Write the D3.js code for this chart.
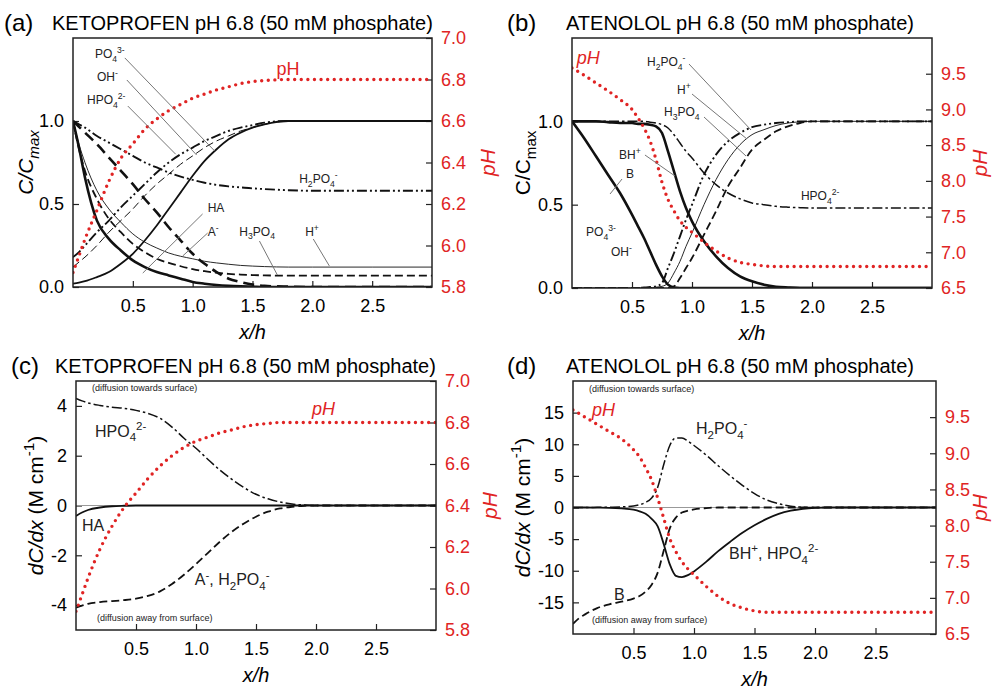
<!DOCTYPE html>
<html><head><meta charset="utf-8">
<script src="https://cdn.jsdelivr.net/npm/d3@7"></script>
<style>
body{margin:0;background:#fff;}
svg{font-family:"Liberation Sans",Arial,sans-serif;}
</style></head><body>
<svg id="fig" width="994" height="692"></svg>
<script>
// ---- (a) KETOPROFEN, C/Cmax ------------------------------------------------
var xa = [0, 0.05, 0.1, 0.2, 0.3, 0.4, 0.5, 0.6, 0.7, 0.8, 0.9, 1.0, 1.1, 1.2, 1.3, 1.4, 1.5, 1.6, 1.8, 2.0, 2.5, 3.0];
var aHA    = [1.0, 0.84, 0.66, 0.40, 0.29, 0.22, 0.16, 0.12, 0.09, 0.07, 0.05, 0.03, 0.02, 0.012, 0.007, 0.004, 0.002, 0, 0, 0, 0, 0];
var aA     = [1.0, 0.965, 0.93, 0.86, 0.78, 0.70, 0.62, 0.53, 0.45, 0.36, 0.28, 0.20, 0.14, 0.09, 0.05, 0.03, 0.015, 0.007, 0.002, 0, 0, 0];
var aH     = [1.0, 0.86, 0.75, 0.58, 0.47, 0.39, 0.32, 0.27, 0.235, 0.205, 0.185, 0.17, 0.155, 0.145, 0.137, 0.13, 0.126, 0.123, 0.12, 0.12, 0.12, 0.12];
var aH3PO4 = [1.0, 0.83, 0.70, 0.53, 0.41, 0.33, 0.26, 0.21, 0.17, 0.145, 0.125, 0.108, 0.095, 0.086, 0.079, 0.075, 0.072, 0.07, 0.068, 0.068, 0.068, 0.068];
var aH2PO4 = [1.0, 0.98, 0.96, 0.91, 0.87, 0.83, 0.79, 0.75, 0.72, 0.69, 0.665, 0.645, 0.628, 0.615, 0.606, 0.60, 0.594, 0.59, 0.583, 0.58, 0.58, 0.58];
var aHPO4  = [0.18, 0.21, 0.25, 0.33, 0.40, 0.48, 0.55, 0.62, 0.69, 0.75, 0.80, 0.84, 0.88, 0.91, 0.94, 0.96, 0.975, 0.99, 1.0, 1.0, 1.0, 1.0];
var aOH    = [0.12, 0.15, 0.18, 0.25, 0.33, 0.40, 0.47, 0.55, 0.62, 0.68, 0.74, 0.79, 0.84, 0.88, 0.91, 0.94, 0.96, 0.98, 1.0, 1.0, 1.0, 1.0];
var aPO4   = [0.02, 0.027, 0.035, 0.06, 0.09, 0.14, 0.20, 0.28, 0.37, 0.47, 0.57, 0.67, 0.76, 0.83, 0.89, 0.93, 0.96, 0.98, 1.0, 1.0, 1.0, 1.0];
var apH    = [5.87, 5.95, 6.03, 6.17, 6.31, 6.42, 6.49, 6.56, 6.61, 6.65, 6.68, 6.71, 6.73, 6.75, 6.765, 6.78, 6.79, 6.795, 6.8, 6.8, 6.8, 6.8];

// ---- (b) ATENOLOL, C/Cmax --------------------------------------------------
var xb = [0, 0.1, 0.2, 0.3, 0.4, 0.5, 0.55, 0.6, 0.65, 0.7, 0.75, 0.8, 0.85, 0.9, 0.95, 1.0, 1.1, 1.2, 1.3, 1.4, 1.5, 1.6, 1.7, 1.8, 1.9, 2.0, 2.5, 3.0];
var bB     = [1.0, 0.90, 0.79, 0.68, 0.57, 0.44, 0.37, 0.30, 0.22, 0.14, 0.07, 0.02, 0.003, 0, 0, 0, 0, 0, 0, 0, 0, 0, 0, 0, 0, 0, 0, 0];
var bBH    = [1.0, 1.0, 1.0, 0.995, 0.99, 0.99, 0.985, 0.985, 0.98, 0.97, 0.93, 0.82, 0.70, 0.58, 0.48, 0.40, 0.28, 0.19, 0.12, 0.07, 0.04, 0.02, 0.008, 0.003, 0, 0, 0, 0];
var bHPO4  = [1.0, 1.0, 1.0, 1.0, 1.0, 1.0, 1.0, 1.0, 0.995, 0.99, 0.98, 0.96, 0.92, 0.87, 0.82, 0.78, 0.69, 0.62, 0.57, 0.535, 0.51, 0.50, 0.49, 0.485, 0.482, 0.48, 0.48, 0.48];
var bH2PO4 = [0, 0, 0, 0, 0, 0, 0, 0.003, 0.006, 0.01, 0.03, 0.12, 0.21, 0.31, 0.41, 0.50, 0.68, 0.80, 0.88, 0.93, 0.965, 0.98, 0.99, 0.995, 1.0, 1.0, 1.0, 1.0];
var bH     = [0, 0, 0, 0, 0, 0, 0, 0, 0, 0.005, 0.01, 0.03, 0.09, 0.16, 0.25, 0.33, 0.50, 0.65, 0.77, 0.86, 0.92, 0.95, 0.975, 0.99, 0.997, 1.0, 1.0, 1.0];
var bH3PO4 = [0, 0, 0, 0, 0, 0, 0, 0, 0, 0, 0, 0, 0.01, 0.06, 0.12, 0.18, 0.32, 0.46, 0.61, 0.72, 0.83, 0.89, 0.94, 0.97, 0.99, 1.0, 1.0, 1.0];
var bpH    = [9.58, 9.48, 9.37, 9.26, 9.14, 9.0, 8.88, 8.74, 8.56, 8.3, 7.98, 7.74, 7.58, 7.44, 7.35, 7.28, 7.14, 7.02, 6.92, 6.86, 6.83, 6.81, 6.8, 6.8, 6.8, 6.8, 6.8, 6.8];

// ---- (c) KETOPROFEN, dC/dx -------------------------------------------------
var xc = [0, 0.05, 0.1, 0.2, 0.3, 0.4, 0.5, 0.6, 0.7, 0.8, 0.9, 1.0, 1.1, 1.2, 1.3, 1.4, 1.5, 1.6, 1.7, 1.8, 1.9, 2.0, 2.5, 3.0];
var cHPO4 = [4.3, 4.2, 4.12, 4.02, 3.95, 3.9, 3.82, 3.7, 3.5, 3.15, 2.7, 2.3, 1.85, 1.42, 1.05, 0.72, 0.45, 0.27, 0.14, 0.06, 0.02, 0, 0, 0];
var cA    = [-4.1, -4.02, -3.95, -3.88, -3.84, -3.8, -3.74, -3.63, -3.45, -3.15, -2.78, -2.35, -1.9, -1.45, -1.05, -0.72, -0.45, -0.25, -0.12, -0.05, -0.01, 0, 0, 0];
var cHA   = [-0.42, -0.28, -0.18, -0.08, -0.03, -0.01, 0, 0, 0, 0, 0, 0, 0, 0, 0, 0, 0, 0, 0, 0, 0, 0, 0, 0];
var cpH   = [5.89, 5.97, 6.05, 6.19, 6.30, 6.39, 6.46, 6.53, 6.59, 6.64, 6.68, 6.71, 6.73, 6.75, 6.765, 6.78, 6.79, 6.795, 6.8, 6.8, 6.8, 6.8, 6.8, 6.8];

// ---- (d) ATENOLOL, dC/dx ---------------------------------------------------
var xd = [0, 0.05, 0.1, 0.2, 0.3, 0.4, 0.5, 0.55, 0.6, 0.65, 0.7, 0.75, 0.8, 0.85, 0.9, 0.95, 1.0, 1.1, 1.2, 1.3, 1.4, 1.5, 1.6, 1.7, 1.8, 1.9, 2.0, 2.1, 2.5, 3.0];
var dH2PO4 = [0, 0, 0, 0.02, 0.05, 0.1, 0.25, 0.45, 0.8, 1.5, 3.2, 6.8, 9.8, 11.0, 11.0, 10.5, 9.8, 8.3, 6.6, 5.0, 3.5, 2.2, 1.2, 0.6, 0.2, 0.05, 0, 0, 0, 0];
var dBH    = [0, 0, 0, -0.02, -0.05, -0.15, -0.35, -0.6, -1.0, -1.8, -3.0, -5.8, -9.0, -10.8, -11.0, -10.7, -10.1, -8.6, -6.9, -5.4, -4.0, -2.8, -1.8, -1.0, -0.5, -0.2, -0.05, 0, 0, 0];
var dB     = [-18.4, -17.5, -16.9, -15.9, -15.3, -14.9, -14.4, -14.0, -13.3, -12.2, -10.3, -6.8, -3.3, -1.6, -0.8, -0.5, -0.3, -0.1, 0, 0, 0, 0, 0, 0, 0, 0, 0, 0, 0, 0];
var dpH    = [9.6, 9.55, 9.5, 9.4, 9.3, 9.2, 9.05, 8.95, 8.8, 8.63, 8.38, 8.1, 7.82, 7.64, 7.5, 7.4, 7.32, 7.16, 7.02, 6.92, 6.86, 6.82, 6.8, 6.8, 6.8, 6.8, 6.8, 6.8, 6.8, 6.8];

// tick labels
var xTicks = [0.5, 1.0, 1.5, 2.0, 2.5];
var cTicks = [0, 0.5, 1.0];
var gradTicksC = [-4, -2, 0, 2, 4];
var gradTicksD = [-15, -10, -5, 0, 5, 10, 15];
var pHTicksKeto = [5.8, 6.0, 6.2, 6.4, 6.6, 6.8, 7.0];
var pHTicksAten = [6.5, 7.0, 7.5, 8.0, 8.5, 9.0, 9.5];

var RED = '#e02424';
var STY = {
    thick:    {w: 2.6, dash: null},
    solid:    {w: 1.8, dash: null},
    thin:     {w: 0.9, dash: null},
    bigDash:  {w: 2.6, dash: '11,6'},
    dash:     {w: 1.8, dash: '8,4'},
    thinDash: {w: 1.0, dash: '8,4'},
    dashDot2: {w: 1.9, dash: '10,3,2,3,2,3'},
    dashDot:  {w: 1.5, dash: '10,3,2.5,3'}
};

var fig = d3.select('#fig');
var plain = function (d) { return String(d); };   // keeps the ascii minus

// text with sub/superscripts: parts = [[text, 'sub'|'sup'|'', italic]]
function rich(text, parts, size) {
    var off = 0;
    parts.forEach(function (p) {
        var target = p[1] === 'sub' ? size * 0.3 : (p[1] === 'sup' ? -size * 0.42 : 0);
        text.append('tspan')
            .attr('dy', target - off)
            .attr('font-size', p[1] ? size * 0.72 : size)
            .attr('font-style', p[2] ? 'italic' : null)
            .text(p[0]);
        off = target;
    });
    return text;
}

function panel(cfg) {
    var g = fig.append('g');
    var x = d3.scaleLinear().domain([0, 3]).range([cfg.l, cfg.r]);
    var y = d3.scaleLinear().domain(cfg.yDom).range([cfg.b, cfg.t]);
    var yp = d3.scaleLinear().domain(cfg.pDom).range([cfg.b, cfg.t]);

    var clipId = 'clip' + cfg.id;
    fig.append('clipPath').attr('id', clipId).append('rect')
        .attr('x', cfg.l).attr('y', cfg.t).attr('width', cfg.r - cfg.l).attr('height', cfg.b - cfg.t);

    // titles
    g.append('text').attr('x', cfg.tagX).attr('y', cfg.titleY).attr('font-size', 24).text(cfg.tag);
    g.append('text').attr('x', cfg.titleX).attr('y', cfg.titleY - 1).attr('font-size', 20).text(cfg.title);

    // axes, ticks pointing inward
    var ax = g.append('g').attr('transform', 'translate(0,' + cfg.b + ')')
        .call(d3.axisBottom(x).tickValues(xTicks).tickFormat(d3.format('.1f')).tickSizeInner(-6).tickSizeOuter(0).tickPadding(12));
    var ay = g.append('g').attr('transform', 'translate(' + cfg.l + ',0)')
        .call(d3.axisLeft(y).tickValues(cfg.yTicks).tickFormat(cfg.yFmt).tickSizeInner(-6).tickSizeOuter(0).tickPadding(9));
    var ap = g.append('g').attr('transform', 'translate(' + cfg.r + ',0)')
        .call(d3.axisRight(yp).tickValues(cfg.pTicks).tickFormat(d3.format('.1f')).tickSizeInner(-6).tickSizeOuter(0).tickPadding(9));
    [ax, ay, ap].forEach(function (a) {
        a.select('.domain').remove();
        a.selectAll('text').attr('font-size', 18).attr('font-family', null);
        a.selectAll('line').attr('stroke', '#222').attr('stroke-width', 1.2);
    });
    ap.selectAll('text').attr('fill', RED);

    var body = g.append('g').attr('clip-path', 'url(#' + clipId + ')');

    if (cfg.zeroLine) {
        body.append('line').attr('x1', cfg.l).attr('x2', cfg.r)
            .attr('y1', y(0)).attr('y2', y(0)).attr('stroke', '#999').attr('stroke-width', 1);
    }

    // leader lines
    (cfg.leaders || []).forEach(function (d) {
        g.append('line').attr('x1', x(d[0])).attr('y1', y(d[1])).attr('x2', x(d[2])).attr('y2', y(d[3]))
            .attr('stroke', '#777').attr('stroke-width', 1);
    });

    var line = d3.line().curve(d3.curveMonotoneX);
    cfg.series.forEach(function (s) {
        var st = STY[s.style];
        body.append('path')
            .attr('d', line(cfg.xs.map(function (v, i) { return [x(v), y(s.v[i])]; })))
            .attr('fill', 'none').attr('stroke', '#111')
            .attr('stroke-width', st.w).attr('stroke-dasharray', st.dash);
    });

    // pH profile, red dotted
    body.append('path')
        .attr('d', line(cfg.xs.map(function (v, i) { return [x(v), yp(cfg.pH[i])]; })))
        .attr('fill', 'none').attr('stroke', RED).attr('stroke-width', 3.4)
        .attr('stroke-linecap', 'round').attr('stroke-dasharray', '0,6.6');

    g.append('rect').attr('x', cfg.l).attr('y', cfg.t).attr('width', cfg.r - cfg.l).attr('height', cfg.b - cfg.t)
        .attr('fill', 'none').attr('stroke', '#222').attr('stroke-width', 1.5);

    // curve labels
    (cfg.labels || []).forEach(function (d) {
        var t = g.append('text').attr('x', x(d.x)).attr('y', y(d.y)).attr('font-size', d.size)
            .attr('fill', d.red ? RED : '#222');
        rich(t, d.parts, d.size);
    });

    // axis titles
    g.append('text').attr('x', (cfg.l + cfg.r) / 2).attr('y', cfg.b + 52)
        .attr('text-anchor', 'middle').attr('font-size', 20).attr('font-style', 'italic').text('x/h');
    var yl = g.append('text').attr('text-anchor', 'middle').attr('font-size', 21)
        .attr('transform', 'translate(' + cfg.yLabX + ',' + (cfg.t + cfg.b) / 2 + ') rotate(-90)');
    rich(yl, cfg.yLab, 21);
    g.append('text').attr('text-anchor', 'middle').attr('font-size', 21).attr('font-style', 'italic')
        .attr('fill', RED)
        .attr('transform', 'translate(' + cfg.pLabX + ',' + (cfg.t + cfg.b) / 2 + ') rotate(-90)')
        .text('pH');
}

var S = 12; // small label font
var gradLab = [['dC/dx', '', true], [' (M cm', '', false], ['-1', 'sup', false], [')', '', false]];

panel({
    id: 'a', l: 73, r: 432, t: 38, b: 287,
    yDom: [0, 1.5], pDom: [5.8, 7.0], yTicks: cTicks, pTicks: pHTicksKeto, yFmt: d3.format('.1f'),
    tag: '(a)', tagX: 4, titleX: 52, titleY: 31, title: 'KETOPROFEN pH 6.8 (50 mM phosphate)',
    yLabX: 33, pLabX: 495,
    yLab: [['C/C', '', true], ['max', 'sub', true]],
    xs: xa, pH: apH,
    series: [
        {v: aHA, style: 'thick'}, {v: aA, style: 'bigDash'}, {v: aH, style: 'thin'},
        {v: aH3PO4, style: 'dash'}, {v: aH2PO4, style: 'dashDot2'}, {v: aHPO4, style: 'dashDot2'},
        {v: aOH, style: 'thinDash'}, {v: aPO4, style: 'solid'}
    ],
    leaders: [
        [0.433, 1.38, 1.183, 0.82], [0.45, 1.247, 1.033, 0.795], [0.458, 1.09, 0.858, 0.80],
        [1.083, 0.44, 0.583, 0.084], [1.125, 0.325, 0.917, 0.187],
        [1.558, 0.277, 1.708, 0.072], [2.008, 0.289, 2.142, 0.127]
    ],
    labels: [
        {x: 0.183, y: 1.38, size: S, parts: [['PO', ''], ['4', 'sub'], ['3-', 'sup']]},
        {x: 0.2, y: 1.24, size: S, parts: [['OH', ''], ['-', 'sup']]},
        {x: 0.117, y: 1.10, size: S, parts: [['HPO', ''], ['4', 'sub'], ['2-', 'sup']]},
        {x: 1.89, y: 0.627, size: S, parts: [['H', ''], ['2', 'sub'], ['PO', ''], ['4', 'sub'], ['-', 'sup']]},
        {x: 1.125, y: 0.45, size: S, parts: [['HA', '']]},
        {x: 1.125, y: 0.31, size: S, parts: [['A', ''], ['-', 'sup']]},
        {x: 1.39, y: 0.31, size: S, parts: [['H', ''], ['3', 'sub'], ['PO', ''], ['4', 'sub']]},
        {x: 1.94, y: 0.31, size: S, parts: [['H', ''], ['+', 'sup']]},
        {x: 1.7, y: 1.28, size: 18, red: true, parts: [['pH', '']]}
    ]
});

panel({
    id: 'b', l: 572, r: 932, t: 38, b: 288,
    yDom: [0, 1.5], pDom: [6.5, 10.0], yTicks: cTicks, pTicks: pHTicksAten, yFmt: d3.format('.1f'),
    tag: '(b)', tagX: 507, titleX: 566, titleY: 31, title: 'ATENOLOL pH 6.8 (50 mM phosphate)',
    yLabX: 530, pLabX: 987,
    yLab: [['C/C', '', false], ['max', 'sub', false]],
    xs: xb, pH: bpH,
    series: [
        {v: bB, style: 'thick'}, {v: bBH, style: 'thick'}, {v: bHPO4, style: 'dashDot'},
        {v: bH2PO4, style: 'dashDot2'}, {v: bH, style: 'thin'}, {v: bH3PO4, style: 'dash'}
    ],
    leaders: [
        [0.975, 1.344, 1.492, 0.948], [1.0, 1.164, 1.458, 0.894], [1.1, 1.026, 1.45, 0.792],
        [0.608, 0.798, 0.858, 0.672], [0.417, 0.654, 0.317, 0.564]
    ],
    labels: [
        {x: 0.04, y: 1.344, size: 18, red: true, parts: [['pH', '', true]]},
        {x: 0.625, y: 1.332, size: S, parts: [['H', ''], ['2', 'sub'], ['PO', ''], ['4', 'sub'], ['-', 'sup']]},
        {x: 0.875, y: 1.164, size: S, parts: [['H', ''], ['+', 'sup']]},
        {x: 0.767, y: 1.032, size: S, parts: [['H', ''], ['3', 'sub'], ['PO', ''], ['4', 'sub']]},
        {x: 0.392, y: 0.774, size: S, parts: [['BH', ''], ['+', 'sup']]},
        {x: 0.45, y: 0.66, size: S, parts: [['B', '']]},
        {x: 0.117, y: 0.312, size: S, parts: [['PO', ''], ['4', 'sub'], ['3-', 'sup']]},
        {x: 0.325, y: 0.192, size: S, parts: [['OH', ''], ['-', 'sup']]},
        {x: 1.908, y: 0.528, size: S, parts: [['HPO', ''], ['4', 'sub'], ['2-', 'sup']]}
    ]
});

panel({
    id: 'c', l: 76, r: 436, t: 381, b: 630,
    yDom: [-5, 5], pDom: [5.8, 7.0], yTicks: gradTicksC, pTicks: pHTicksKeto, yFmt: plain,
    tag: '(c)', tagX: 11, titleX: 55, titleY: 374, title: 'KETOPROFEN pH 6.8 (50 mM phosphate)',
    yLabX: 43, pLabX: 497, zeroLine: true,
    yLab: gradLab,
    xs: xc, pH: cpH,
    series: [
        {v: cHPO4, style: 'dashDot'}, {v: cA, style: 'dash'}, {v: cHA, style: 'solid'}
    ],
    labels: [
        {x: 0.133, y: 4.58, size: 9, parts: [['(diffusion towards surface)', '']]},
        {x: 0.175, y: -4.62, size: 9, parts: [['(diffusion away from surface)', '']]},
        {x: 0.158, y: 2.77, size: 16, parts: [['HPO', ''], ['4', 'sub'], ['2-', 'sup']]},
        {x: 0.05, y: -1.04, size: 16, parts: [['HA', '']]},
        {x: 0.99, y: -3.21, size: 16, parts: [['A', ''], ['-', 'sup'], [', H', ''], ['2', 'sub'], ['PO', ''], ['4', 'sub'], ['-', 'sup']]},
        {x: 1.967, y: 3.65, size: 18, red: true, parts: [['pH', '', true]]}
    ]
});

panel({
    id: 'd', l: 573, r: 936, t: 381, b: 634,
    yDom: [-20, 20], pDom: [6.5, 10.0], yTicks: gradTicksD, pTicks: pHTicksAten, yFmt: plain,
    tag: '(d)', tagX: 507, titleX: 566, titleY: 374, title: 'ATENOLOL pH 6.8 (50 mM phosphate)',
    yLabX: 530, pLabX: 987, zeroLine: true,
    yLab: gradLab,
    xs: xd, pH: dpH,
    series: [
        {v: dH2PO4, style: 'dashDot'}, {v: dB, style: 'dash'}, {v: dBH, style: 'solid'}
    ],
    labels: [
        {x: 0.132, y: 18.26, size: 9, parts: [['(diffusion towards surface)', '']]},
        {x: 0.157, y: -18.26, size: 9, parts: [['(diffusion away from surface)', '']]},
        {x: 0.157, y: 14.47, size: 18, red: true, parts: [['pH', '', true]]},
        {x: 1.017, y: 11.6, size: 16, parts: [['H', ''], ['2', 'sub'], ['PO', ''], ['4', 'sub'], ['-', 'sup']]},
        {x: 1.29, y: -8.14, size: 16, parts: [['BH', ''], ['+', 'sup'], [', HPO', ''], ['4', 'sub'], ['2-', 'sup']]},
        {x: 0.339, y: -14.6, size: 16, parts: [['B', '']]}
    ]
});
</script>
</body></html>
